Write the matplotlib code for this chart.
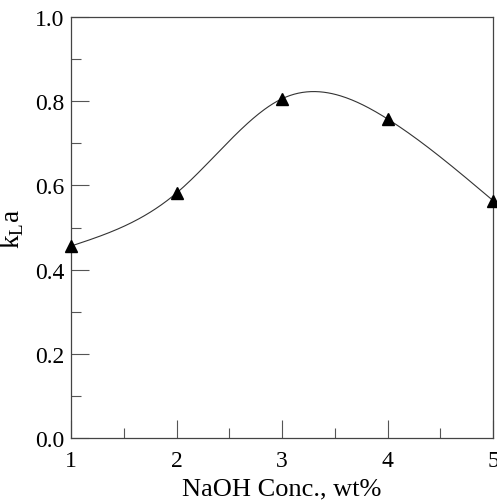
import numpy as np
import matplotlib
matplotlib.use('Agg')
import matplotlib.pyplot as plt
from matplotlib.ticker import MultipleLocator

plt.rcParams['font.family'] = 'Liberation Serif'
plt.rcParams['mathtext.fontset'] = 'custom'
plt.rcParams['mathtext.rm'] = 'Liberation Serif'

# data
naoh_conc = [1, 2, 3, 4, 5]
kla = [0.456, 0.582, 0.806, 0.758, 0.564]


def natural_spline(x, y, xs):
    # plain natural cubic spline, no scipy needed
    x = np.asarray(x, float)
    y = np.asarray(y, float)
    n = len(x)
    h = np.diff(x)
    A = np.zeros((n, n))
    b = np.zeros(n)
    A[0, 0] = A[-1, -1] = 1
    for i in range(1, n - 1):
        A[i, i - 1] = h[i - 1]
        A[i, i] = 2 * (h[i - 1] + h[i])
        A[i, i + 1] = h[i]
        b[i] = 6 * ((y[i + 1] - y[i]) / h[i] - (y[i] - y[i - 1]) / h[i - 1])
    M = np.linalg.solve(A, b)
    idx = np.clip(np.searchsorted(x, xs) - 1, 0, n - 2)
    x0, x1 = x[idx], x[idx + 1]
    hh = x1 - x0
    t0, t1 = x1 - xs, xs - x0
    return (M[idx] * t0**3 / (6 * hh) + M[idx + 1] * t1**3 / (6 * hh)
            + (y[idx] / hh - M[idx] * hh / 6) * t0
            + (y[idx + 1] / hh - M[idx + 1] * hh / 6) * t1)


fig = plt.figure(figsize=(4.97, 5.02), dpi=100)
ax = fig.add_axes([0.143, 0.1255, 0.849, 0.8385])

xs = np.linspace(naoh_conc[0], naoh_conc[-1], 300)
ax.plot(xs, natural_spline(naoh_conc, kla, xs), color='#333333', lw=0.8)
ax.plot(naoh_conc, kla, linestyle='none', marker='^', color='black',
        markersize=9, clip_on=False, zorder=3)

ax.set_xlim(1, 5)
ax.set_ylim(0, 1.0)
ax.xaxis.set_major_locator(MultipleLocator(1))
ax.xaxis.set_minor_locator(MultipleLocator(0.5))
ax.yaxis.set_major_locator(MultipleLocator(0.2))
ax.yaxis.set_minor_locator(MultipleLocator(0.1))
ax.yaxis.set_major_formatter(plt.FormatStrFormatter('%.1f'))
ax.tick_params(which='both', direction='in', top=False, right=False,
               width=0.8, colors='#555555', labelcolor='black', labelsize=17)
ax.tick_params(which='major', length=13)
ax.tick_params(which='minor', length=7)
ax.tick_params(axis='x', which='major', pad=9)
ax.tick_params(axis='y', which='major', pad=5)
for s in ax.spines.values():
    s.set_linewidth(0.9)
    s.set_color('#444444')

ax.set_xlabel('NaOH Conc., wt%', fontsize=19, labelpad=4)
ax.set_ylabel(r'k$_\mathrm{L}$a', fontsize=19.5, labelpad=6)

fig.savefig('out.png', dpi=100)
